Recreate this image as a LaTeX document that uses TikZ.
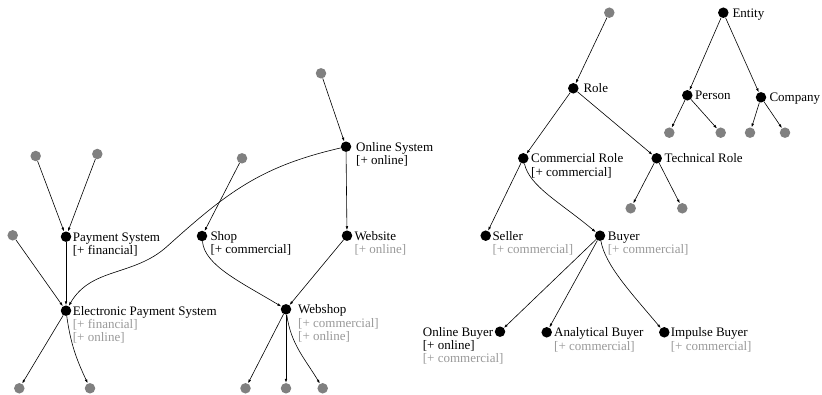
\documentclass[tikz,border=0pt]{standalone}
\usepackage{fontspec}
\setmainfont{Liberation Serif}
\usetikzlibrary{arrows.meta}
\definecolor{dotgray}{HTML}{808080}
\definecolor{txtgray}{HTML}{999999}
\newcommand{\grayln}[1]{\textcolor{txtgray}{#1}}
\begin{document}
\begin{tikzpicture}[x=1pt,y=1pt,
  bdot/.style={circle,fill=black,inner sep=0pt,minimum size=10.5pt},
  gdot/.style={circle,fill=dotgray,inner sep=0pt,minimum size=10.5pt},
  lbl/.style={anchor=base west,inner sep=0pt,align=left,font=\fontsize{13}{13.3}\selectfont},
  edge/.style={draw=black,line width=0.6pt,-{Latex[length=4pt,width=2.6pt]}}]
\useasboundingbox (0,0) rectangle (822,394);
% left cluster
\node[gdot] (gos) at (321,320.7) {};
\node[bdot] (os) at (346,247.3) {};
\node[bdot] (website) at (347,158.3) {};
\node[bdot] (shop) at (202,158) {};
\node[gdot] (gshop) at (242,235.7) {};
\node[bdot] (webshop) at (286,84.7) {};
\node[gdot] (w1) at (245.5,5.7) {};
\node[gdot] (w2) at (286,5.7) {};
\node[gdot] (w3) at (322.7,5.7) {};
\node[bdot] (ps) at (66,157.3) {};
\node[gdot] (gps1) at (35.7,238) {};
\node[gdot] (gps2) at (97.3,240) {};
\node[bdot] (eps) at (66,83.3) {};
\node[gdot] (geps) at (12.7,158.7) {};
\node[gdot] (e1) at (19.3,5.7) {};
\node[gdot] (e2) at (90,5.7) {};
\coordinate (mid) at (167,147.5);
% right cluster
\node[gdot] (grole) at (609.3,381.3) {};
\node[bdot] (entity) at (723.3,381.3) {};
\node[bdot] (role) at (573.3,305.7) {};
\node[bdot] (person) at (687.3,298.7) {};
\node[bdot] (company) at (761,296.7) {};
\node[gdot] (p1) at (669.3,261.3) {};
\node[gdot] (p2) at (720.7,261.3) {};
\node[gdot] (c1) at (750,261.3) {};
\node[gdot] (c2) at (785,261.3) {};
\node[bdot] (cr) at (523.3,235.7) {};
\node[bdot] (tr) at (656.7,235.7) {};
\node[gdot] (t1) at (630.7,185.7) {};
\node[gdot] (t2) at (682.3,185.7) {};
\node[bdot] (seller) at (485.7,158.3) {};
\node[bdot] (buyer) at (600,158.3) {};
\node[bdot] (ob) at (500,62.3) {};
\node[bdot] (ab) at (546.7,61.7) {};
\node[bdot] (ib) at (664.3,61.7) {};
% labels (base anchor = baseline of the last line)
\node[lbl] (psl) at ([shift={(6.7,-17.8)}]ps.center) {Payment System\\{}[+ financial]};
\node[lbl] (epsl) at ([shift={(6.7,-31.1)}]eps.center) {Electronic Payment System\\\grayln{[+ financial]}\\\grayln{[+ online]}};
\node[lbl] (shopl) at ([shift={(8.3,-17.8)}]shop.center) {Shop\\{}[+ commercial]};
\node[lbl] (osl) at ([shift={(10,-17.8)}]os.center) {Online System\\{}[+ online]};
\node[lbl] (websitel) at ([shift={(7.3,-17.8)}]website.center) {Website\\\grayln{[+ online]}};
\node[lbl] (webshopl) at ([shift={(12,-31.1)}]webshop.center) {Webshop\\\grayln{[+ commercial]}\\\grayln{[+ online]}};
\node[lbl] (rolel) at ([shift={(10,-4.5)}]role.center) {Role};
\node[lbl] (entityl) at ([shift={(9,-4.5)}]entity.center) {Entity};
\node[lbl] (personl) at ([shift={(7.7,-4.5)}]person.center) {Person};
\node[lbl] (companyl) at ([shift={(8.3,-4.5)}]company.center) {Company};
\node[lbl] (crl) at ([shift={(7.7,-17.8)}]cr.center) {Commercial Role\\{}[+ commercial]};
\node[lbl] (trl) at ([shift={(7.6,-4.5)}]tr.center) {Technical Role};
\node[lbl] (sellerl) at ([shift={(6.6,-17.8)}]seller.center) {Seller\\\grayln{[+ commercial]}};
\node[lbl] (buyerl) at ([shift={(7.7,-17.8)}]buyer.center) {Buyer\\\grayln{[+ commercial]}};
\node[lbl] (obl) at ([shift={(-77.3,-31.1)}]ob.center) {Online Buyer\\{}[+ online]\\\grayln{[+ commercial]}};
\node[lbl] (abl) at ([shift={(7.3,-17.8)}]ab.center) {Analytical Buyer\\\grayln{[+ commercial]}};
\node[lbl] (ibl) at ([shift={(6.4,-17.8)}]ib.center) {Impulse Buyer\\\grayln{[+ commercial]}};
% edges left
\draw[edge] (gos) -- (os);
\draw[edge] (os) -- (website);
\draw[edge] (os) to[out=193,in=42,looseness=1.05] (mid) to[out=222,in=60] (eps);
\draw[edge] (gshop) -- (shop);
\draw[edge] (shop) to[out=-85,in=149,out looseness=0.6,in looseness=1.2] (webshop);
\draw[edge] (website) -- (webshop);
\draw[edge] (webshop) -- (w1);
\draw[edge] (webshop) -- (w2);
\draw[edge] (webshop) to[out=-82,in=121] (w3);
\draw[edge] (gps1) -- (ps);
\draw[edge] (gps2) -- (ps);
\draw[edge] (ps) -- (eps);
\draw[edge] (geps) -- (eps);
\draw[edge] (eps) -- (e1);
\draw[edge] (eps) to[out=-82,in=115] (e2);
% edges right
\draw[edge] (grole) -- (role);
\draw[edge] (role) -- (cr);
\draw[edge] (role) -- (tr);
\draw[edge] (cr) -- (seller);
\draw[edge] (cr) to[out=-78,in=140,out looseness=0.6,in looseness=1.2] (buyer);
\draw[edge] (tr) -- (t1);
\draw[edge] (tr) -- (t2);
\draw[edge] (entity) -- (person);
\draw[edge] (entity) -- (company);
\draw[edge] (person) -- (p1);
\draw[edge] (person) -- (p2);
\draw[edge] (company) -- (c1);
\draw[edge] (company) -- (c2);
\draw[edge] (buyer) -- (ob);
\draw[edge] (buyer) -- (ab);
\draw[edge] (buyer) to[out=-80,in=130,out looseness=0.6,in looseness=1.1] (ib);
\end{tikzpicture}
\end{document}
